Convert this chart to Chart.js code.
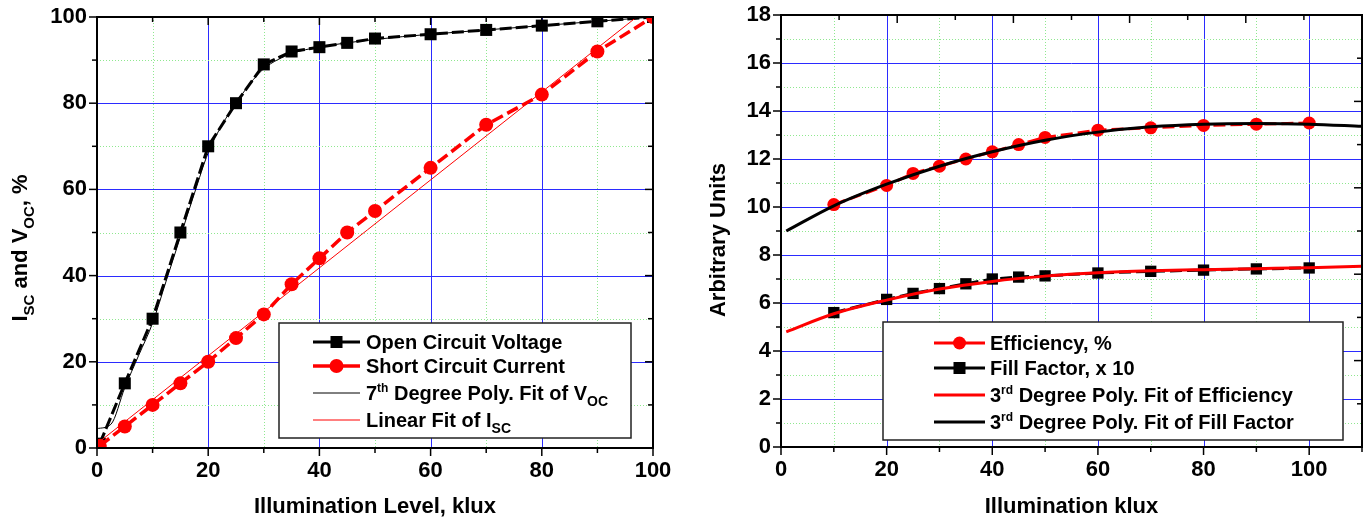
<!DOCTYPE html>
<html>
<head>
<meta charset="utf-8">
<script src="https://cdn.jsdelivr.net/npm/chart.js@4.4.0/dist/chart.umd.min.js"></script>
<style>
  body { margin: 0; background: #fff; }
  #wrap { position: relative; width: 1370px; height: 521px; }
  canvas { position: absolute; top: 0; }
  #left { left: 0; }
  #right { left: 685px; }
</style>
</head>
<body>
<div id="wrap">
  <canvas id="left" width="685" height="521"></canvas>
  <canvas id="right" width="685" height="521"></canvas>
</div>
<script>
// ---- left panel: Voc / Isc vs illumination ----
const illumA = [0.5, 5, 10, 15, 20, 25, 30, 35, 40, 45, 50, 60, 70, 80, 90, 100];
const vocPct = [1, 15, 30, 50, 70, 80, 89, 92, 93, 94, 95, 96, 97, 98, 99, 100];
const iscPct = [0.5, 5, 10, 15, 20, 25.5, 31, 38, 44, 50, 55, 65, 75, 82, 92, 100];
const vocFitX = [0, 2.5, 5, 7.5, 10, 12.5, 15, 17.5, 20, 22.5, 25, 27.5, 30, 35, 40, 50, 60, 70, 80, 90, 100];
const vocFitY = [4.5, 5.5, 14, 21.5, 29, 39, 49, 59, 68.5, 75, 80, 84.5, 88, 91.5, 93, 94.8, 96, 97, 98, 99, 100];
const iscFitX = [0, 100];
const iscFitY = [1, 103];

// ---- right panel: efficiency / fill factor ----
const illumB = [10, 20, 25, 30, 35, 40, 45, 50, 60, 70, 80, 90, 100];
const efficiency = [10.1, 10.9, 11.4, 11.7, 12.0, 12.3, 12.6, 12.9, 13.2, 13.3, 13.4, 13.45, 13.5];
const fillFactor10 = [5.6, 6.15, 6.4, 6.6, 6.8, 7.0, 7.08, 7.13, 7.25, 7.32, 7.37, 7.42, 7.46];
const fitX = [1, 10, 20, 30, 40, 50, 60, 70, 80, 90, 100, 110];
const effFitRed = [4.8, 5.55, 6.12, 6.58, 6.9, 7.12, 7.26, 7.34, 7.39, 7.43, 7.47, 7.53];
const ffFitBlack = [9.0, 10.05, 10.95, 11.7, 12.3, 12.78, 13.12, 13.34, 13.45, 13.48, 13.45, 13.36];

const FONT = 'Liberation Sans, Arial, sans-serif';
const pts = (xs, ys) => xs.map((x, i) => ({ x: x, y: ys[i] }));

// draws a run of text pieces; sub/sup pieces are smaller and shifted
function drawRich(ctx, parts, x, y, size) {
  let cx = x;
  parts.forEach(p => {
    let fs = size, dy = 0;
    if (p.sub) { fs = Math.round(size * 0.68); dy = size * 0.3; }
    if (p.sup) { fs = Math.round(size * 0.6); dy = -size * 0.42; }
    ctx.font = 'bold ' + fs + 'px ' + FONT;
    ctx.fillText(p.t, cx, y + dy);
    cx += ctx.measureText(p.t).width;
  });
  return cx - x;
}
function richWidth(ctx, parts, size) {
  let w = 0;
  parts.forEach(p => {
    const fs = p.sub ? Math.round(size * 0.68) : p.sup ? Math.round(size * 0.6) : size;
    ctx.font = 'bold ' + fs + 'px ' + FONT;
    w += ctx.measureText(p.t).width;
  });
  return w;
}

const panelPlugin = {
  id: 'panel',
  beforeDatasetsDraw(chart, args, o) {
    const { ctx, chartArea: a, scales: { x, y } } = chart;
    ctx.save();
    ctx.lineWidth = 1;
    for (let v = x.min + o.xMinor; v < x.max - 0.01; v += o.xMinor) {
      const px = Math.round(x.getPixelForValue(v)) + 0.5;
      const major = v % o.xMajor === 0;
      ctx.strokeStyle = major ? '#2b2bff' : '#8fe88f';
      ctx.setLineDash(major ? [] : [1, 2]);
      ctx.beginPath(); ctx.moveTo(px, a.top); ctx.lineTo(px, a.bottom); ctx.stroke();
    }
    for (let v = y.min + o.yMinor; v < y.max - 0.01; v += o.yMinor) {
      const py = Math.round(y.getPixelForValue(v)) + 0.5;
      const major = Math.abs(v % o.yMajor) < 1e-6;
      ctx.strokeStyle = major ? '#2b2bff' : '#8fe88f';
      ctx.setLineDash(major ? [] : [1, 2]);
      ctx.beginPath(); ctx.moveTo(a.left, py); ctx.lineTo(a.right, py); ctx.stroke();
    }
    ctx.restore();
  },
  afterDatasetsDraw(chart, args, o) {
    const { ctx, chartArea: a, scales: { x, y } } = chart;
    ctx.save();
    ctx.strokeStyle = '#000';
    ctx.lineWidth = 1.5;
    // outward ticks, bottom and left
    for (let v = x.min; v <= x.max + 0.01; v += o.xMinor) {
      const px = x.getPixelForValue(v);
      const len = v % o.xMajor === 0 ? 8 : 5;
      ctx.beginPath(); ctx.moveTo(px, a.bottom); ctx.lineTo(px, a.bottom + len); ctx.stroke();
    }
    for (let v = y.min; v <= y.max + 0.01; v += o.yMinor) {
      const py = y.getPixelForValue(v);
      const len = Math.abs(v % o.yMajor) < 1e-6 ? 8 : 5;
      ctx.beginPath(); ctx.moveTo(a.left, py); ctx.lineTo(a.left - len, py); ctx.stroke();
    }
    // inward ticks, top and right (10 divisions)
    for (let k = 1; k < 10; k++) {
      const px = a.left + (a.right - a.left) * k / 10;
      const py = a.bottom - (a.bottom - a.top) * k / 10;
      const len = k % 2 === 0 ? 8 : 5;
      ctx.beginPath(); ctx.moveTo(px, a.top); ctx.lineTo(px, a.top + len); ctx.stroke();
      ctx.beginPath(); ctx.moveTo(a.right, py); ctx.lineTo(a.right - len, py); ctx.stroke();
    }
    ctx.lineWidth = 2;
    ctx.strokeRect(a.left, a.top, a.right - a.left, a.bottom - a.top);

    // legend box
    const L = o.legend;
    ctx.fillStyle = '#fff';
    ctx.fillRect(L.x0, L.y0, L.x1 - L.x0, L.y1 - L.y0);
    ctx.lineWidth = 1.5;
    ctx.strokeStyle = '#222';
    ctx.strokeRect(L.x0, L.y0, L.x1 - L.x0, L.y1 - L.y0);
    L.rows.forEach((r, i) => {
      const ry = L.rowY[i];
      ctx.strokeStyle = r.color;
      ctx.lineWidth = r.width;
      ctx.setLineDash([]);
      ctx.beginPath(); ctx.moveTo(L.lx0, ry); ctx.lineTo(L.lx1, ry); ctx.stroke();
      const mx = (L.lx0 + L.lx1) / 2;
      ctx.fillStyle = r.color;
      if (r.marker === 'rect') ctx.fillRect(mx - r.ms, ry - r.ms, r.ms * 2, r.ms * 2);
      if (r.marker === 'circle') { ctx.beginPath(); ctx.arc(mx, ry, r.ms, 0, Math.PI * 2); ctx.fill(); }
      ctx.fillStyle = '#000';
      ctx.textBaseline = 'alphabetic';
      ctx.textAlign = 'left';
      drawRich(ctx, r.text, L.tx, ry + 7, 20);
    });

    // axis titles
    ctx.fillStyle = '#000';
    ctx.textBaseline = 'alphabetic';
    ctx.textAlign = 'left';
    const xw = richWidth(ctx, o.xTitle, 22);
    drawRich(ctx, o.xTitle, (a.left + a.right) / 2 - xw / 2, 513, 22);
    ctx.translate(o.yTitlePos[0], o.yTitlePos[1]);
    ctx.rotate(-Math.PI / 2);
    const yw = richWidth(ctx, o.yTitle, 22);
    drawRich(ctx, o.yTitle, -yw / 2, 0, 22);
    ctx.restore();
  }
};

function baseScales(xMax, yMax, xStep, yStep, yWidth, xHeight) {
  const tickFont = { family: FONT, size: 22, weight: 'bold' };
  return {
    x: {
      type: 'linear', min: 0, max: xMax,
      grid: { display: false, drawTicks: false },
      border: { display: false },
      ticks: { stepSize: xStep, includeBounds: false, color: '#000', font: tickFont, padding: 10, maxRotation: 0 },
      afterFit: s => { s.height = xHeight; s.paddingLeft = 0; s.paddingRight = 0; }
    },
    y: {
      type: 'linear', min: 0, max: yMax,
      grid: { display: false, drawTicks: false },
      border: { display: false },
      ticks: { stepSize: yStep, color: '#000', font: tickFont, padding: 10 },
      afterFit: s => { s.width = yWidth; s.paddingTop = 0; s.paddingBottom = 0; }
    }
  };
}

new Chart(document.getElementById('left'), {
  type: 'line',
  data: {
    datasets: [
      { data: pts(vocFitX, vocFitY), borderColor: '#000', borderWidth: 1, pointRadius: 0,
        cubicInterpolationMode: 'monotone', order: 0 },
      { data: pts(iscFitX, iscFitY), borderColor: '#ff0000', borderWidth: 1, pointRadius: 0, order: 0 },
      { data: pts(illumA, iscPct), borderColor: '#ff0000', borderWidth: 3.5, borderDash: [12, 5],
        pointStyle: 'circle', pointRadius: 7, pointBackgroundColor: '#ff0000', pointBorderWidth: 0, order: 1 },
      { data: pts(illumA, vocPct), borderColor: '#000', borderWidth: 3, borderDash: [12, 4],
        pointStyle: 'rect', pointRadius: 8.5, pointBackgroundColor: '#000', pointBorderWidth: 0, order: 2 }
    ]
  },
  options: {
    responsive: false,
    animation: false,
    layout: { autoPadding: false, padding: { top: 17, right: 32, left: 0, bottom: 0 } },
    scales: baseScales(100, 100, 20, 20, 97, 73),
    plugins: {
      legend: { display: false },
      tooltip: { enabled: false },
      panel: {
        xMinor: 10, xMajor: 20, yMinor: 10, yMajor: 20,
        xTitle: [{ t: 'Illumination Level, klux' }],
        yTitle: [{ t: 'I' }, { t: 'SC', sub: true }, { t: ' and V' }, { t: 'OC', sub: true }, { t: ', %' }],
        yTitlePos: [27, 248],
        legend: {
          x0: 279, y0: 323, x1: 631, y1: 438, lx0: 313, lx1: 360, tx: 366,
          rowY: [342, 366, 393, 420],
          rows: [
            { color: '#000', width: 3, marker: 'rect', ms: 6, text: [{ t: 'Open Circuit Voltage' }] },
            { color: '#ff0000', width: 3.5, marker: 'circle', ms: 7, text: [{ t: 'Short Circuit Current' }] },
            { color: '#000', width: 1, text: [{ t: '7' }, { t: 'th', sup: true }, { t: ' Degree Poly. Fit of V' }, { t: 'OC', sub: true }] },
            { color: '#ff0000', width: 1, text: [{ t: 'Linear Fit of I' }, { t: 'SC', sub: true }] }
          ]
        }
      }
    }
  },
  plugins: [panelPlugin]
});

new Chart(document.getElementById('right'), {
  type: 'line',
  data: {
    datasets: [
      { data: pts(fitX, ffFitBlack), borderColor: '#000', borderWidth: 3, pointRadius: 0,
        cubicInterpolationMode: 'monotone', order: 0 },
      { data: pts(fitX, effFitRed), borderColor: '#ff0000', borderWidth: 3, pointRadius: 0,
        cubicInterpolationMode: 'monotone', order: 0 },
      { data: pts(illumB, efficiency), borderColor: '#ff0000', borderWidth: 3, borderDash: [12, 5],
        pointStyle: 'circle', pointRadius: 6.5, pointBackgroundColor: '#ff0000', pointBorderWidth: 0, order: 1 },
      { data: pts(illumB, fillFactor10), borderColor: '#000', borderWidth: 3, borderDash: [12, 5],
        pointStyle: 'rect', pointRadius: 8, pointBackgroundColor: '#000', pointBorderWidth: 0, order: 1 }
    ]
  },
  options: {
    responsive: false,
    animation: false,
    layout: { autoPadding: false, padding: { top: 15, right: 8, left: 0, bottom: 0 } },
    scales: baseScales(110, 18, 20, 2, 96, 74),
    plugins: {
      legend: { display: false },
      tooltip: { enabled: false },
      panel: {
        xMinor: 10, xMajor: 20, yMinor: 1, yMajor: 2,
        xTitle: [{ t: 'Illumination klux' }],
        yTitle: [{ t: 'Arbitrary Units' }],
        yTitlePos: [40, 240],
        legend: {
          x0: 198, y0: 322, x1: 658, y1: 440, lx0: 249, lx1: 300, tx: 305,
          rowY: [343, 368, 395, 422],
          rows: [
            { color: '#ff0000', width: 3, marker: 'circle', ms: 6.5, text: [{ t: 'Efficiency, %' }] },
            { color: '#000', width: 3, marker: 'rect', ms: 6, text: [{ t: 'Fill Factor, x 10' }] },
            { color: '#ff0000', width: 3, text: [{ t: '3' }, { t: 'rd', sup: true }, { t: ' Degree Poly. Fit of Efficiency' }] },
            { color: '#000', width: 3, text: [{ t: '3' }, { t: 'rd', sup: true }, { t: ' Degree Poly. Fit of Fill Factor' }] }
          ]
        }
      }
    }
  },
  plugins: [panelPlugin]
});
</script>
</body>
</html>
